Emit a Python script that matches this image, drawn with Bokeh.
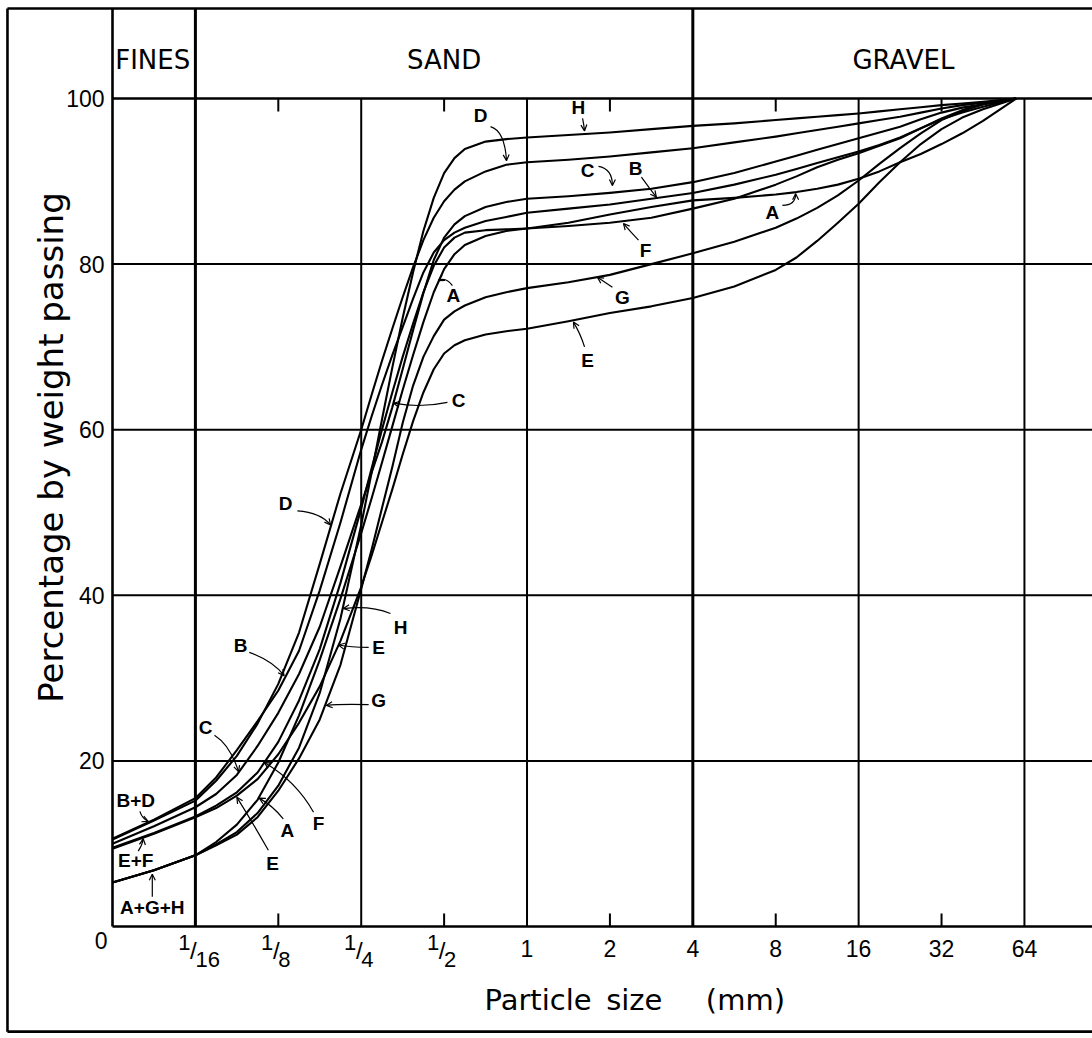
import numpy as np
from bokeh.plotting import figure
from bokeh.models import (FixedTicker, Arrow, OpenHead, ColumnDataSource, Range1d)
from bokeh.embed import file_html
from bokeh.resources import INLINE
from bokeh.core.properties import value

# ---------------- data ----------------
# particle size given as log2(mm): -5 = 1/32 mm ... 6 = 64 mm
log2_size = [-5, -4.5, -4, -3.75, -3.5, -3.25, -3, -2.75, -2.5, -2.25,
             -2, -1.875, -1.75, -1.625, -1.5, -1.375, -1.25, -1.125, -1, -0.875,
             -0.75, -0.5, -0.25, 0, 0.5, 1, 1.5, 2, 2.5,
             3, 3.25, 3.5, 3.75, 4, 4.25, 4.5, 4.75, 5, 5.25, 5.5, 5.9]

pct_A = [5.3, 6.8, 8.6, 10.2, 12.3, 15.3, 19.8, 25.5, 32.2, 39.6,
         47.5, 51.7, 56.0, 60.4, 64.8, 69.0, 73.0, 76.6, 79.4, 81.2,
         82.3, 83.4, 84.0, 84.3, 85.0, 86.0, 86.9, 87.7, 88.0,
         88.4, 88.7, 89.1, 89.6, 90.3, 91.2, 92.3, 93.3, 94.5, 95.8, 97.3, 100]
pct_B = [10.6, 12.9, 15.5, 18.0, 21.3, 24.8, 28.5, 33.3, 40.6, 48.8,
         57.6, 61.6, 65.4, 69.0, 72.4, 75.8, 79.0, 81.4, 82.9, 83.8,
         84.4, 85.2, 85.7, 86.2, 86.7, 87.2, 87.9, 88.6, 89.6,
         90.8, 91.5, 92.2, 92.9, 93.6, 94.4, 95.3, 96.4, 97.5, 98.3, 99.0, 100]
pct_C = [10.0, 12.1, 14.4, 16.0, 18.3, 21.8, 25.8, 30.5, 36.2, 43.5,
         51.0, 54.8, 58.5, 62.7, 67.3, 72.0, 76.5, 80.5, 83.2, 84.8,
         85.8, 86.9, 87.5, 87.9, 88.2, 88.6, 89.1, 89.9, 91.0,
         92.4, 93.1, 93.8, 94.5, 95.2, 95.9, 96.6, 97.5, 98.3, 98.9, 99.3, 100]
pct_D = [10.5, 12.8, 15.2, 17.6, 20.6, 24.5, 29.3, 35.5, 43.8, 52.3,
         60.0, 64.2, 68.3, 72.2, 76.0, 79.6, 82.9, 85.6, 87.6, 89.0,
         90.0, 91.2, 92.0, 92.3, 92.6, 93.0, 93.5, 94.0, 94.7,
         95.4, 95.8, 96.2, 96.6, 97.0, 97.4, 97.8, 98.3, 98.8, 99.2, 99.5, 100]
pct_E = [9.4, 11.2, 13.2, 14.3, 15.8, 17.8, 20.8, 24.6, 29.0, 34.5,
         41.0, 44.8, 48.8, 52.8, 57.0, 61.0, 64.5, 67.3, 69.2, 70.2,
         70.8, 71.5, 71.9, 72.2, 73.1, 74.1, 74.9, 75.9, 77.3,
         79.3, 80.8, 82.8, 85.0, 87.3, 89.9, 92.3, 94.5, 96.3, 97.7, 98.7, 100]
pct_F = [9.5, 11.3, 13.3, 14.6, 16.2, 18.6, 22.3, 27.3, 33.5, 41.5,
         50.5, 55.3, 60.0, 64.5, 68.8, 72.8, 76.6, 79.8, 82.0, 83.2,
         83.8, 84.1, 84.2, 84.3, 84.6, 85.0, 85.6, 86.7, 87.9,
         89.6, 90.6, 91.7, 92.6, 93.4, 94.3, 95.2, 96.4, 97.6, 98.6, 99.3, 100]
pct_G = [5.3, 6.8, 8.6, 9.8, 11.1, 13.2, 16.4, 20.3, 25.0, 31.6,
         40.8, 45.5, 50.5, 55.5, 60.8, 65.3, 68.8, 71.3, 73.3, 74.3,
         75.0, 76.0, 76.6, 77.1, 77.8, 78.7, 80.0, 81.3, 82.7,
         84.4, 85.5, 86.8, 88.3, 90.1, 92.1, 94.0, 95.8, 97.4, 98.5, 99.3, 100]
pct_H = [5.3, 6.8, 8.6, 9.9, 11.4, 13.7, 17.0, 21.6, 28.2, 37.2,
         48.5, 54.8, 61.2, 67.5, 73.5, 79.0, 84.0, 88.0, 91.0, 92.8,
         93.9, 94.8, 95.1, 95.3, 95.6, 95.9, 96.3, 96.7, 97.0,
         97.4, 97.6, 97.8, 98.0, 98.2, 98.45, 98.7, 98.95, 99.2, 99.4, 99.6, 100]

curves = [pct_A, pct_B, pct_C, pct_D, pct_E, pct_F, pct_G, pct_H]

# axis / grid definitions (mm and %)
size_ticks = [1, 2, 4, 8, 16, 32, 64]
frac_ticks = [1 / 16, 1 / 8, 1 / 4, 1 / 2]
frac_denoms = ["16", "8", "4", "2"]
grid_sizes = [1 / 4, 1, 16, 64]
section_bounds = [1 / 16, 4]
short_tick_sizes = [1 / 8, 1 / 2, 2, 8, 32]
pct_ticks = [0, 20, 40, 60, 80, 100]
pct_grid = [20, 40, 60, 80]

sections = ["FINES", "SAND", "GRAVEL"]
section_log2_center = [-4.515, -1.0, 4.54]

# callouts: text, label (log2 size, %), arrow start, control, tip
callouts = [
    ("D", -0.56, 97.9, -0.44, 96.6, -0.27, 96.1, -0.247, 92.5),
    ("H", 0.62, 98.9, 0.67, 97.6, 0.685, 96.9, 0.694, 96.1),
    ("C", 0.73, 91.3, 0.862, 91.8, 1.03, 91.5, 1.03, 89.5),
    ("B", 1.31, 91.5, 1.38, 90.5, 1.466, 89.3, 1.56, 88.1),
    ("F", 1.43, 81.6, 1.345, 82.9, 1.25, 83.9, 1.164, 84.9),
    ("A", 2.96, 86.2, 3.08, 87.1, 3.24, 87.1, 3.24, 88.5),
    ("A", -0.887, 76.2, -0.9, 77.4, -0.98, 78.5, -1.07, 78.0),
    ("G", 1.15, 76.0, 1.03, 77.2, 0.94, 77.8, 0.85, 78.4),
    ("E", 0.73, 68.4, 0.694, 70.0, 0.645, 71.6, 0.56, 73.0),
    ("C", -0.826, 63.5, -0.96, 63.3, -1.285, 62.6, -1.61, 63.2),
    ("D", -2.913, 51.1, -2.77, 50.2, -2.49, 50.0, -2.37, 48.5),
    ("H", -1.526, 36.1, -1.647, 37.8, -1.89, 38.8, -2.214, 38.4),
    ("E", -1.79, 33.7, -1.91, 33.7, -2.13, 33.7, -2.274, 34.0),
    ("B", -3.456, 33.9, -3.35, 33.1, -3.07, 32.1, -2.93, 30.3),
    ("G", -1.79, 27.3, -1.91, 26.8, -2.25, 26.9, -2.42, 26.7),
    ("C", -3.878, 24.0, -3.77, 23.1, -3.58, 21.9, -3.48, 18.7),
    ("F", -2.515, 12.4, -2.575, 13.8, -2.79, 17.6, -3.17, 19.8),
    ("A", -2.89, 11.6, -2.94, 13.0, -3.07, 14.6, -3.23, 15.5),
    ("E", -3.07, 7.6, -3.12, 9.2, -3.36, 13.4, -3.50, 15.6),
    ("B+D", -4.72, 15.2, -4.67, 13.9, -4.64, 13.0, -4.57, 12.7),
    ("E+F", -4.72, 8.0, -4.69, 9.1, -4.64, 9.8, -4.63, 10.6),
    ("A+G+H", -4.52, 2.3, -4.52, 3.6, -4.52, 4.9, -4.52, 6.3),
]

# ---------------- layout constants ----------------
W, H = 1092, 1038
X_LO, X_HI = 2 ** -6.351, 2 ** 6.821          # whole canvas in log2(mm)
Y_LO, Y_HI = -13.53, 111.84                     # whole canvas in %
X_AXIS0 = 2 ** -5                               # left edge of the chart box
BORDER_X = 2 ** -6.267                          # outer frame
BORDER_TOP, BORDER_BOTTOM = 110.87, -12.7
PX_PER_PCT = 8.28
SANS = "Liberation Sans"
WIDE = "DejaVu Sans"

p = figure(width=W, height=H, x_axis_type="log",
           x_range=Range1d(X_LO, X_HI), y_range=Range1d(Y_LO, Y_HI),
           output_backend="svg", toolbar_location=None,
           min_border_left=0, min_border_right=0,
           min_border_top=0, min_border_bottom=0)
p.background_fill_color = "white"
p.border_fill_color = "white"
p.outline_line_color = None
p.grid.visible = False

for ax in (p.xaxis[0], p.yaxis[0]):
    ax.axis_line_width = 2.6
    ax.axis_line_color = "black"
    ax.major_tick_out = 0
    ax.major_tick_in = 0
    ax.minor_tick_out = 0
    ax.minor_tick_in = 0
    ax.major_label_text_font = SANS
    ax.major_label_text_font_size = "23px"
    ax.major_label_text_color = "black"

p.xaxis.fixed_location = 0
p.xaxis.bounds = (X_AXIS0, X_HI)
p.xaxis.ticker = FixedTicker(ticks=size_ticks)
p.xaxis.major_label_overrides = {t: str(t) for t in size_ticks}
p.xaxis.major_label_standoff = 14

p.yaxis.fixed_location = X_AXIS0
p.yaxis.bounds = (0, BORDER_TOP)
p.yaxis.ticker = FixedTicker(ticks=pct_ticks)
p.yaxis.major_label_overrides = {0: ""}
p.yaxis.major_label_standoff = 8

# outer frame (left, top, bottom)
p.segment(x0=[BORDER_X, BORDER_X, BORDER_X], y0=[BORDER_BOTTOM, BORDER_TOP, BORDER_BOTTOM],
          x1=[BORDER_X, X_HI, X_HI], y1=[BORDER_TOP, BORDER_TOP, BORDER_BOTTOM],
          line_color="black", line_width=2.6)

# grid lines
p.segment(x0=grid_sizes, y0=[0] * len(grid_sizes), x1=grid_sizes, y1=[100] * len(grid_sizes),
          line_color="black", line_width=2)
p.segment(x0=section_bounds, y0=[0] * 2, x1=section_bounds, y1=[BORDER_TOP] * 2,
          line_color="black", line_width=3)
p.segment(x0=[X_AXIS0] * len(pct_grid), y0=pct_grid, x1=[X_HI] * len(pct_grid),
          y1=pct_grid, line_color="black", line_width=2)
p.segment(x0=[X_AXIS0], y0=[100], x1=[X_HI], y1=[100],
          line_color="black", line_width=2.6)
tick_len = 13 / PX_PER_PCT
n = len(short_tick_sizes)
p.segment(x0=short_tick_sizes, y0=[0] * n, x1=short_tick_sizes, y1=[tick_len] * n,
          line_color="black", line_width=2)
p.segment(x0=short_tick_sizes, y0=[100] * n, x1=short_tick_sizes, y1=[100 - tick_len] * n,
          line_color="black", line_width=2)

# header texts
p.text(x=[2 ** c for c in section_log2_center], y=[104.7] * 3, text=sections,
       text_font=value(WIDE), text_font_size="26px", text_align="center",
       text_baseline="middle", text_color="black")

# curves
sizes = [2.0 ** u for u in log2_size]
for pct in curves:
    p.line(sizes, pct, line_color="black", line_width=2.1, line_join="round")

# callouts
lab = ColumnDataSource(dict(x=[2 ** c[1] for c in callouts], y=[c[2] for c in callouts],
                            t=[c[0] for c in callouts]))
p.text(x="x", y="y", text="t", source=lab, text_font=value(SANS),
       text_font_style="bold", text_font_size="19px", text_align="center",
       text_baseline="middle", text_color="black")
arr = ColumnDataSource(dict(
    x0=[2 ** c[3] for c in callouts], y0=[c[4] for c in callouts],
    cx=[2 ** c[5] for c in callouts], cy=[c[6] for c in callouts],
    x1=[2 ** c[7] for c in callouts], y1=[c[8] for c in callouts]))
p.quadratic(x0="x0", y0="y0", x1="x1", y1="y1", cx="cx", cy="cy", source=arr,
            line_color="black", line_width=1.2)
p.add_layout(Arrow(end=OpenHead(size=6, line_width=1.2, line_color="black"),
                   x_start="cx", y_start="cy", x_end="x1", y_end="y1",
                   source=arr, line_alpha=0))

# fractional tick labels 1/16 1/8 1/4 1/2
nf = len(frac_ticks)
p.text(x=frac_ticks, y=[-1.9] * nf, text=["1"] * nf, x_offset=-5,
       text_align="right", text_baseline="middle",
       text_font=value(SANS), text_font_size="22px", text_color="black")
p.text(x=frac_ticks, y=[-2.9] * nf, text=["/"] * nf, x_offset=-2,
       text_align="center", text_baseline="middle",
       text_font=value(SANS), text_font_size="24px", text_color="black")
p.text(x=frac_ticks, y=[-4.0] * nf, text=frac_denoms, x_offset=0,
       text_align="left", text_baseline="middle",
       text_font=value(SANS), text_font_size="22px", text_color="black")

# "0" of the percentage axis, set a little low as in the original
p.text(x=[X_AXIS0], y=[-1.7], text=["0"], x_offset=-5, text_align="right",
       text_baseline="middle", text_font=value(SANS), text_font_size="23px",
       text_color="black")

# axis titles
p.text(x=[2 ** -5.736], y=[57.85], text=["Percentage by weight passing"],
       angle=np.pi / 2, text_align="center", text_baseline="middle",
       text_font=value(WIDE), text_font_size="34px", text_color="black")
p.text(x=[2 ** -0.513], y=[-8.9], text=["Particle\u2002size\u2003\u2002(mm)"],
       text_align="left", text_baseline="middle",
       text_font=value(WIDE), text_font_size="29px", text_color="black")

open("out.html", "w").write(file_html(p, INLINE))
